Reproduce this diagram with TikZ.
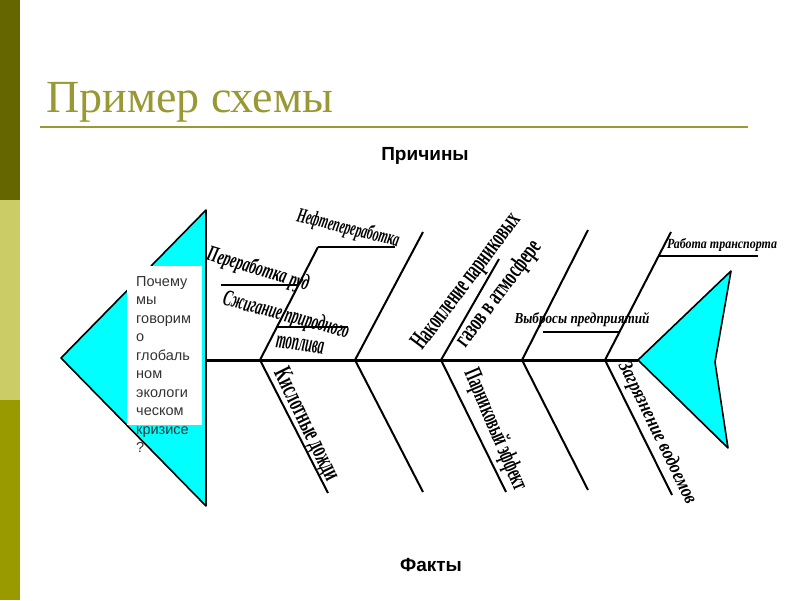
\documentclass[tikz,border=0pt]{standalone}
\usepackage{fontspec}
\setmainfont{Liberation Serif}
\newfontfamily\sansf{Liberation Sans}
\usepackage{graphicx}
\definecolor{olivedark}{RGB}{102,102,0}
\definecolor{olivelight}{RGB}{204,204,102}
\definecolor{olivemid}{RGB}{153,153,0}
\definecolor{titleolive}{RGB}{153,153,51}
\definecolor{fishcyan}{RGB}{0,255,255}
\newcommand{\wordart}[3]{\resizebox{#1}{#2}{#3}}
\begin{document}
\begin{tikzpicture}[x=1pt,y=-1pt,
  fin/.style={draw=black, line width=1.6pt, fill=fishcyan, line join=round},
  spineline/.style={line width=3pt},
  bone/.style={line width=2pt},
  subbone/.style={line width=1.5pt},
  art/.style={inner sep=0pt, font=\bfseries},
  heading/.style={inner sep=0pt, font=\sansf\bfseries\fontsize{19}{22}\selectfont},
  qline/.style={inner sep=0pt, anchor=base west, text=black!80, font=\sansf\fontsize{14.5}{17}\selectfont}]
\useasboundingbox (0,0) rectangle (800,600);
% side bar
\fill[olivedark] (0,0) rectangle (20,200);
\fill[olivelight] (0,200) rectangle (20,400);
\fill[olivemid] (0,400) rectangle (20,600);
% title
\node[inner sep=0pt, anchor=base west, text=titleolive, font=\fontsize{46}{50}\selectfont] (title) at (46,112) {Пример схемы};
\coordinate (rl) at (40,127);
\coordinate (rr) at (748,127);
\draw[titleolive, line width=2pt] (rl) -- (rr);
\node[heading] (causes) at (425,156) {Причины};
\node[heading] (facts) at (431,565) {Факты};
% head and tail
\coordinate (hT) at (206,210);
\coordinate (hL) at (61,358);
\coordinate (hB) at (206,506);
\draw[fin] (hT) -- (hL) -- (hB) -- cycle;
\coordinate (tT) at (731,271);
\coordinate (tL) at (638,360);
\coordinate (tB) at (728,448);
\coordinate (tN) at (715,362);
\draw[fin] (tT) -- (tL) -- (tB) -- (tN) -- cycle;
% spine
\coordinate (sL) at (206,360);
\coordinate (sR) at (638,360);
\draw[spineline] (sL) -- (sR);
% junctions
\coordinate (j1) at (260,360);
\coordinate (j2) at (355,360);
\coordinate (j3) at (441,360);
\coordinate (j4) at (522,360);
\coordinate (j5) at (605,360);
% top bones
\coordinate (t1) at (318,247);
\coordinate (t2) at (423,232);
\coordinate (t3) at (499,259);
\coordinate (t4) at (588,230);
\coordinate (t5) at (671,232);
\foreach \i in {1,...,5} \draw[bone] (j\i) -- (t\i);
% bottom bones
\coordinate (b1) at (328,493);
\coordinate (b2) at (423,492);
\coordinate (b3) at (506,492);
\coordinate (b4) at (588,490);
\coordinate (b5) at (672,495);
\foreach \i in {1,...,5} \draw[bone] (j\i) -- (b\i);
% sub bones
\coordinate (u1a) at (221,285);
\coordinate (u1b) at (298.5,285);
\draw[subbone] (u1a) -- (u1b);
\coordinate (u2a) at (277,327);
\coordinate (u2b) at (348,327);
\draw[subbone] (u2a) -- (u2b);
\coordinate (u3b) at (395,247);
\draw[subbone] (t1) -- (u3b);
\coordinate (u4a) at (543,332);
\coordinate (u4b) at (619.4,332);
\draw[subbone] (u4a) -- (u4b);
\coordinate (u5a) at (658.6,256);
\coordinate (u5b) at (758,256);
\draw[subbone] (u5a) -- (u5b);
% question box
\fill[white] (127,266) rectangle (202,425);
\foreach \t [count=\i] in {Почему,мы,говорим,о,глобаль,ном,экологи,ческом,кризисе,?}
  \node[qline] (q\i) at (136,{267.5+18.5*\i}) {\t};
% labels
\node[art, rotate=-17] (lPer) at (258,270) {\wordart{106pt}{16pt}{\itshape Переработка руд}};
\node[art, rotate=-14] (lNef) at (348,229) {\wordart{105pt}{15pt}{\itshape Нефтепереработка}};
\node[art, rotate=-15] (lSzh) at (286,316) {\wordart{130pt}{16pt}{\itshape Сжигание природного}};
\node[art, rotate=-8] (lTop) at (300,345) {\wordart{48pt}{12pt}{\itshape топлива}};
\node[art, rotate=53] (lNak1) at (467,282) {\wordart{164pt}{17pt}{Накопление парниковых}};
\node[art, rotate=53] (lNak2) at (499,294) {\wordart{127pt}{17pt}{газов в атмосфере}};
\node[art] (lVyb) at (582,320) {\wordart{135pt}{11pt}{\itshape Выбросы предприятий}};
\node[art] (lRab) at (722,245) {\wordart{110pt}{10pt}{\itshape Работа транспорта}};
\node[art, rotate=-64] (lKis) at (306,425) {\wordart{122pt}{17pt}{Кислотные дожди}};
\node[art, rotate=-67] (lPar) at (495,430) {\wordart{130pt}{17pt}{Парниковый эффект}};
\node[art, rotate=-64] (lZag) at (657,433) {\wordart{156pt}{14pt}{\itshape Загрязнение водоемов}};
\end{tikzpicture}
\end{document}
